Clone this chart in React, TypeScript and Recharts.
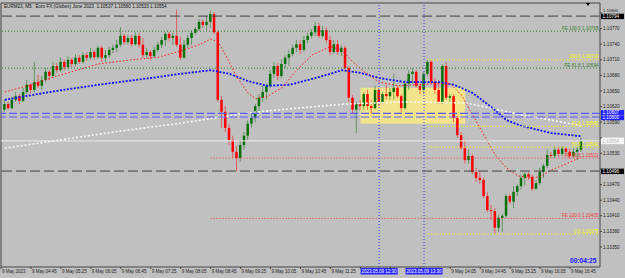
import React from "react";
import { ComposedChart, Bar, Line, XAxis, YAxis, ReferenceLine, ReferenceArea } from "recharts";

// prices are stored in points (0.00001) above 1.10000
const BASE = 1.1;
const PT = 0.00001;
const FIRST_BAR_MIN = 250; // 04:10, M5 bars
const BAR_MIN = 5;

const OPEN = [
  614, 625, 617, 633, 640, 631, 648, 662, 652, 667,
  660, 671, 687, 679, 698, 690, 706, 696, 710, 702,
  714, 706, 719, 714, 725, 715, 733, 714, 719, 729,
  733, 739, 756, 744, 752, 740, 756, 739, 719, 725,
  717, 729, 739, 748, 760, 752, 756, 739, 714, 739,
  752, 762, 769, 783, 777, 783, 798, 763, 633, 610,
  579, 556, 533, 521, 546, 564, 587, 598, 621, 637,
  648, 660, 683, 698, 679, 702, 714, 721, 733, 740,
  729, 748, 756, 763, 775, 756, 767, 748, 725, 740,
  725, 733, 694, 637, 614, 625, 621, 644, 621, 617,
  652, 629, 644, 640, 648, 656, 640, 617, 664, 683,
  687, 660, 652, 683, 706, 667, 652, 629, 698, 637,
  640, 598, 565, 540, 517, 525, 494, 483, 479, 448,
  421, 419, 387, 406, 410, 448, 437, 456, 467, 483,
  490, 485, 462, 473, 494, 506, 527, 525, 537, 529,
  539, 533, 525, 533, 537,
];
const HIGH = [
  633, 629, 639, 648, 644, 656, 671, 665, 706, 681,
  679, 694, 690, 706, 704, 714, 710, 717, 714, 721,
  719, 725, 725, 733, 729, 737, 737, 729, 735, 739,
  748, 773, 760, 758, 758, 763, 762, 752, 733, 729,
  735, 744, 754, 763, 763, 762, 806, 754, 748, 758,
  767, 773, 788, 788, 794, 804, 802, 767, 640, 621,
  587, 564, 544, 556, 571, 594, 610, 625, 644, 660,
  664, 690, 706, 704, 710, 719, 729, 739, 748, 748,
  756, 762, 769, 783, 781, 775, 773, 756, 748, 748,
  739, 737, 698, 642, 629, 633, 648, 652, 633, 660,
  656, 648, 662, 656, 683, 660, 644, 671, 690, 694,
  690, 664, 687, 710, 709, 675, 671, 702, 706, 644,
  644, 602, 571, 556, 537, 529, 502, 494, 483, 456,
  431, 425, 412, 414, 452, 452, 467, 471, 489, 494,
  494, 489, 479, 502, 510, 537, 533, 544, 542, 544,
  542, 539, 540, 542, 560,
];
const LOW = [
  610, 614, 615, 629, 625, 629, 644, 646, 648, 656,
  652, 667, 671, 675, 685, 687, 690, 692, 696, 698,
  702, 702, 708, 710, 710, 712, 706, 706, 714, 723,
  725, 735, 739, 739, 735, 737, 733, 714, 714, 710,
  714, 725, 733, 737, 746, 739, 735, 710, 712, 733,
  739, 758, 765, 771, 767, 771, 760, 629, 579, 571,
  546, 521, 496, 514, 537, 556, 579, 590, 610, 629,
  633, 656, 675, 671, 675, 694, 698, 717, 725, 721,
  725, 742, 752, 756, 752, 752, 742, 719, 721, 719,
  717, 690, 629, 606, 569, 614, 614, 614, 606, 614,
  621, 625, 633, 633, 633, 637, 610, 614, 652, 664,
  656, 644, 644, 679, 664, 644, 625, 625, 633, 629,
  590, 560, 537, 510, 510, 490, 475, 471, 444, 417,
  402, 375, 379, 379, 406, 433, 425, 448, 460, 469,
  479, 458, 460, 469, 483, 502, 521, 521, 523, 525,
  527, 519, 521, 517, 533,
];
const CLOSE = [
  625, 617, 633, 640, 631, 648, 662, 652, 667, 660,
  671, 687, 679, 698, 690, 706, 696, 710, 702, 714,
  706, 719, 714, 725, 715, 733, 714, 719, 729, 733,
  739, 756, 744, 752, 740, 756, 739, 719, 725, 717,
  729, 739, 748, 760, 752, 756, 739, 714, 739, 752,
  762, 769, 783, 777, 783, 798, 763, 633, 610, 579,
  556, 533, 521, 546, 564, 587, 598, 621, 637, 648,
  660, 683, 698, 679, 702, 714, 721, 733, 740, 729,
  748, 756, 763, 775, 756, 767, 748, 725, 740, 725,
  733, 694, 637, 614, 625, 621, 644, 621, 617, 652,
  629, 644, 640, 648, 656, 640, 617, 664, 683, 687,
  660, 652, 683, 706, 667, 652, 629, 698, 637, 640,
  598, 565, 540, 517, 525, 494, 483, 479, 448, 421,
  419, 387, 406, 410, 448, 437, 456, 467, 483, 490,
  485, 462, 473, 494, 506, 527, 525, 537, 529, 539,
  533, 525, 533, 537, 554,
];

// moving averages: [bar index, points]
const RED_MA = [
  [0, 648], [7, 662], [15, 681], [25, 702], [34, 710], [41, 715], [47, 727], [52, 739],
  [55, 750], [57, 744], [59, 719], [62, 677], [65, 646], [67, 635], [70, 639], [74, 656],
  [78, 690], [82, 719], [87, 735], [90, 729], [93, 706], [96, 687], [100, 667], [105, 660],
  [110, 662], [115, 664], [119, 664], [122, 642], [125, 604], [128, 565], [131, 527],
  [134, 502], [137, 487], [140, 483], [143, 485], [146, 498], [150, 510], [154, 523],
];
const BLUE_MA = [
  [0, 633], [12, 648], [25, 662], [39, 675], [47, 683], [55, 690], [60, 683], [65, 669],
  [70, 660], [76, 662], [82, 673], [87, 683], [90, 690], [95, 685], [100, 675], [107, 667],
  [116, 667], [120, 662], [125, 646], [130, 619], [134, 594], [138, 583], [146, 569], [154, 563],
];
const WHITE_MA = [
  [0, 540], [15, 556], [31, 573], [47, 588], [65, 608], [78, 617], [91, 625], [107, 629],
  [123, 627], [130, 617], [138, 604], [146, 594], [154, 583],
];

const X_DOMAIN = [245, 1045];
const X_TICKS = [245, 285, 325, 365, 405, 445, 485, 525, 565, 605, 645, 685, 725, 765, 805, 845, 885, 925, 965, 1005];
const X_TICK_LABELS = [
  "9 May 2023", "9 May 04:45", "9 May 05:25", "9 May 06:05", "9 May 06:45", "9 May 07:25",
  "9 May 08:05", "9 May 08:45", "9 May 09:25", "9 May 10:05", "9 May 10:45", "9 May 11:25",
  "9 May 12:05", "9 May 12:45", "9 May 13:25", "9 May 14:05", "9 May 14:45", "9 May 15:25",
  "9 May 16:05", "9 May 16:45",
];
// tick labels hidden under the highlighted time boxes
const X_HIDDEN = [725, 765, 805];
const Y_DOMAIN = [1.103115, 1.108192];
const Y_TICKS = [1.108, 1.1077, 1.1074, 1.1071, 1.1068, 1.1065, 1.1062, 1.1059, 1.1056, 1.1053, 1.105, 1.1047, 1.1044, 1.1041, 1.1038, 1.1035];
// tick labels hidden under the highlighted price boxes
const Y_HIDDEN = [1.1056, 1.105];
// tick label nudged up to peek out above the high-of-day box
const Y_RAISED = [1.108];

const BLACK_LEVELS = [1.10794, 1.10496];
const BLUE_LEVELS = [1.10607, 1.106];
const CURRENT_PRICE = 1.10554;
const FE_GREEN_NAMES = ["FE 100.0", "FE 61.8"];
const FE_GREEN = [1.10765, 1.10694];
const FE_RED_NAMES = ["FE 61.8", "FE 100.0"];
const FE_RED = [1.10521, 1.10405];
const FE_RED_FROM = 525;
const FIB_NAMES = ["100.0", "61.8", "50.0", "0.0"];
const FIB = [1.1071, 1.10582, 1.10542, 1.10375];
const FIB_FROM = 815;
const V_LINES = [750, 810];
const V_LINE_LABELS = ["2023.05.09 12:30", "2023.05.09 13:30"];
const BOX_X = [725, 865];
const BOX_Y = [1.10587, 1.10656];

const TITLE = "EURM23, M5:  Euro FX (Globex) June 2023  1.10537 1.10560 1.10533 1.10554";
const COUNTDOWN = "00:04:25";

const FONT = "'Liberation Sans', Arial, sans-serif";
const BG = "#c0c0c0";
const BULL = "#087008";
const BEAR = "#ff0000";

const rows: any[] = OPEN.map((o, i) => ({
  t: FIRST_BAR_MIN + i * BAR_MIN,
  o: BASE + o * PT,
  h: BASE + HIGH[i] * PT,
  l: BASE + LOW[i] * PT,
  c: BASE + CLOSE[i] * PT,
  range: [BASE + LOW[i] * PT, BASE + HIGH[i] * PT],
  red: null,
  blue: null,
  white: null,
}));
RED_MA.forEach(([i, v]) => (rows[i].red = BASE + v * PT));
BLUE_MA.forEach(([i, v]) => (rows[i].blue = BASE + v * PT));
WHITE_MA.forEach(([i, v]) => (rows[i].white = BASE + v * PT));

const Candle = (props: any) => {
  const { x, y, width, height, payload } = props;
  if (x == null || y == null || !payload) return null;
  const top = Math.min(y, y + height);
  const bot = Math.max(y, y + height);
  const { o, h, l, c } = payload;
  const span = h - l || 1e-9;
  const py = (v: number) => top + ((h - v) / span) * (bot - top);
  const cx = x + width / 2;
  const col = c >= o ? BULL : BEAR;
  const yo = py(o);
  const yc = py(c);
  const bt = Math.min(yo, yc);
  const bh = Math.max(Math.abs(yc - yo), 0.8);
  return (
    <g>
      <line x1={cx} x2={cx} y1={top} y2={bot} stroke={col} strokeWidth={0.8} strokeOpacity={0.65} />
      <rect x={cx - 1.25} y={bt} width={2.5} height={bh} fill={col} />
    </g>
  );
};

const endLabel = (text: string, color: string) => (props: any) => {
  const vb = props.viewBox || {};
  return (
    <text x={vb.x + vb.width - 1.5} y={vb.y - 1.3} textAnchor="end" fontSize={4.6} fontFamily={FONT} fill={color}>
      {text}
    </text>
  );
};

const axisBox = (text: string, bg: string, fg: string, top: number, h: number) => (props: any) => {
  const vb = props.viewBox || {};
  const x = vb.x + vb.width + 1;
  return (
    <g>
      <rect x={x} y={vb.y + top} width={23} height={h} fill={bg} />
      <text x={x + 1.5} y={vb.y + top + h / 2 + 1.6} fontSize={4.6} fontFamily={FONT} fill={fg}>
        {text}
      </text>
    </g>
  );
};

const timeBox = (text: string) => (props: any) => {
  const vb = props.viewBox || {};
  const y = vb.y + vb.height + 1;
  return (
    <g>
      <rect x={vb.x - 18.5} y={y} width={37} height={6.5} fill="#2626ff" />
      <text x={vb.x} y={y + 4.9} textAnchor="middle" fontSize={4.5} fontFamily={FONT} fill="#ffffff">
        {text}
      </text>
    </g>
  );
};

const XTick = (props: any) => {
  const { x, y, payload } = props;
  if (X_HIDDEN.includes(payload.value)) return <g />;
  const idx = X_TICKS.indexOf(payload.value);
  return (
    <text x={x + 1} y={y + 2.6} fontSize={4.5} fontFamily={FONT} fill="#202020">
      {X_TICK_LABELS[idx]}
    </text>
  );
};

const YTick = (props: any) => {
  const { x, y, payload } = props;
  if (Y_HIDDEN.some((v) => Math.abs(v - payload.value) < 1e-7)) return <g />;
  const raised = Y_RAISED.some((v) => Math.abs(v - payload.value) < 1e-7);
  return (
    <text x={x} y={y + (raised ? -0.9 : 1.6)} fontSize={raised ? 4.2 : 4.6} fontFamily={FONT} fill="#202020">
      {Number(payload.value).toFixed(5)}
    </text>
  );
};

export default function App() {
  return (
    <div style={{ position: "absolute", left: 0, top: 0, width: 625, height: 278, background: BG, overflow: "hidden" }}>
      <ComposedChart width={625} height={278} data={rows} margin={{ top: 3, right: 0, bottom: 0, left: 1 }}>
        <XAxis
          dataKey="t"
          type="number"
          domain={X_DOMAIN}
          ticks={X_TICKS}
          interval={0}
          height={11}
          tickSize={2}
          tickMargin={1}
          axisLine={{ stroke: "#444" }}
          tickLine={{ stroke: "#444" }}
          tick={<XTick />}
          allowDataOverflow
        />
        <YAxis
          orientation="right"
          type="number"
          domain={Y_DOMAIN}
          ticks={Y_TICKS}
          interval={0}
          width={25}
          tickSize={2}
          tickMargin={1}
          axisLine={{ stroke: "#444" }}
          tickLine={{ stroke: "#444" }}
          tick={<YTick />}
          allowDataOverflow
        />
        <ReferenceArea x1={BOX_X[0]} x2={BOX_X[1]} y1={BOX_Y[0]} y2={BOX_Y[1]} fill="#f2e48c" fillOpacity={1} stroke="none" />
        <ReferenceLine y={Y_DOMAIN[1]} stroke="#444" />
        <ReferenceLine x={X_DOMAIN[0]} stroke="#444" />
        <Bar dataKey="range" barSize={3} shape={(p: any) => <Candle {...p} />} isAnimationActive={false} />
        <Line dataKey="white" stroke="#f8f8f8" strokeWidth={1.6} strokeDasharray="2 2" dot={false} connectNulls isAnimationActive={false} />
        <Line dataKey="blue" stroke="#1010ff" strokeWidth={1.8} strokeDasharray="2 1.5" dot={false} connectNulls isAnimationActive={false} />
        <Line dataKey="red" stroke="#ff1a1a" strokeWidth={1} strokeDasharray="1.5 2" dot={false} connectNulls isAnimationActive={false} />
        {FE_GREEN.map((p, i) => (
          <ReferenceLine key={"g" + i} y={p} stroke="#2e7d2e" strokeDasharray="1 2" label={endLabel(`${FE_GREEN_NAMES[i]} ${p.toFixed(5)}`, "#2e7d2e")} />
        ))}
        {FE_RED.map((p, i) => (
          <ReferenceLine
            key={"r" + i}
            segment={[{ x: FE_RED_FROM, y: p }, { x: X_DOMAIN[1], y: p }]}
            stroke="#f03c3c"
            strokeDasharray="1 2"
            label={endLabel(`${FE_RED_NAMES[i]} ${p.toFixed(5)}`, "#f03c3c")}
          />
        ))}
        {FIB.map((p, i) => (
          <ReferenceLine
            key={"f" + i}
            segment={[{ x: FIB_FROM, y: p }, { x: X_DOMAIN[1], y: p }]}
            stroke="#ffff00"
            strokeDasharray="1 2"
            label={endLabel(`${FIB_NAMES[i]} ${p.toFixed(5)}`, "#ffff00")}
          />
        ))}
        {V_LINES.map((t, i) => (
          <ReferenceLine key={"v" + i} x={t} stroke="#3c3cff" strokeDasharray="1 2" label={timeBox(V_LINE_LABELS[i])} />
        ))}
        {BLUE_LEVELS.map((p, i) => (
          <ReferenceLine
            key={"b" + i}
            y={p}
            stroke="#5a5aff"
            strokeWidth={1.2}
            strokeDasharray="8 3"
            label={axisBox(p.toFixed(5), "#2020ff", "#ffffff", i === 0 ? -3.3 : -1.7, 4.9)}
          />
        ))}
        {BLACK_LEVELS.map((p, i) => (
          <ReferenceLine key={"k" + i} y={p} stroke="#404040" strokeDasharray="10 4" label={axisBox(p.toFixed(5), "#000000", "#ffffff", -2.4, 5.4)} />
        ))}
        <ReferenceLine y={CURRENT_PRICE} stroke="#ececec" label={axisBox(CURRENT_PRICE.toFixed(5), "#f6f6f6", "#b8b8b8", -3.3, 6.6)} />
      </ComposedChart>
      <div style={{ position: "absolute", left: 4, top: 3, fontSize: 4.6, fontFamily: FONT, color: "#111", whiteSpace: "pre", lineHeight: "7px" }}>
        {TITLE}
      </div>
      <div style={{ position: "absolute", left: 570, top: 257, fontSize: 6.6, fontWeight: "bold", fontFamily: FONT, color: "#1414ff", lineHeight: "8px" }}>
        {COUNTDOWN}
      </div>
      <div style={{ position: "absolute", left: 586, top: 3, width: 0, height: 0, borderLeft: "2.5px solid transparent", borderRight: "2.5px solid transparent", borderTop: "3px solid #000" }} />
    </div>
  );
}
